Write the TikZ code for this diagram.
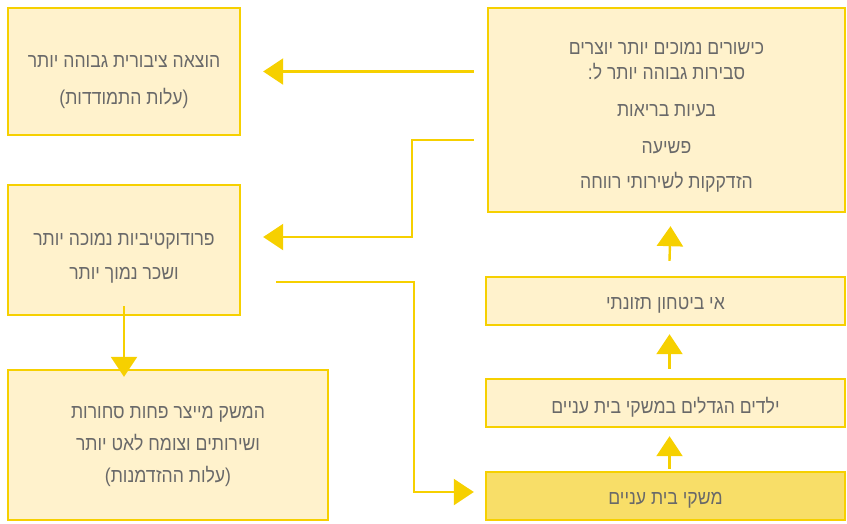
\documentclass[tikz,border=0pt]{standalone}
\usepackage{fontspec}
\usepackage{xcolor}
\usetikzlibrary{arrows.meta}
\TeXXeTstate=1
\newfontfamily\hebfont[Script=Hebrew, FakeStretch=0.88]{Liberation Sans}
\newcommand{\heb}[1]{\beginR #1\endR}
\definecolor{boxfill}{RGB}{255,242,204}
\definecolor{boxline}{RGB}{246,208,0}
\definecolor{darkfill}{RGB}{248,222,104}
\definecolor{textgray}{RGB}{105,105,105}

\begin{document}
\begin{tikzpicture}[x=1pt, y=-1pt,
    box/.style={draw=boxline, fill=boxfill, line width=2.4pt, rectangle, inner sep=0pt},
    txt/.style={align=center, text=textgray, inner sep=0pt, font=\hebfont\fontsize{20}{25}\selectfont},
    flow/.style={draw=boxline, line width=2.4pt, -{Triangle[width=26pt, length=20pt]}}]
    \useasboundingbox (0,0) rectangle (847,523);

    % Right column
    \node[box, minimum width=357pt, minimum height=204pt] (skills) at (666.5,110) {};
    \node[txt] (skillstext) at ([yshift=-7pt]skills.center)
      {\heb{כישורים נמוכים יותר יוצרים}\\ \heb{סבירות גבוהה יותר ל:}\\[12pt]
       \heb{בעיות בריאות}\\[12pt] \heb{פשיעה}\\[10pt] \heb{הזדקקות לשירותי רווחה}};
    \node[box, minimum width=359pt, minimum height=48pt] (food) at (665.5,301) {};
    \node[txt] (foodtext) at ([yshift=-4pt]food.center) {\heb{אי ביטחון תזונתי}};
    \node[box, minimum width=359pt, minimum height=48pt] (kids) at (665.5,403) {};
    \node[txt] (kidstext) at ([yshift=-4pt]kids.center) {\heb{ילדים הגדלים במשקי בית עניים}};
    \node[box, fill=darkfill, minimum width=359pt, minimum height=48pt] (poor) at (665.5,496) {};
    \node[txt] (poortext) at ([yshift=-4pt]poor.center) {\heb{משקי בית עניים}};

    % Left column
    \node[box, minimum width=232pt, minimum height=127pt] (spend) at (124,71.5) {};
    \node[txt] (spendtext) at ([yshift=-11pt]spend.center)
      {\heb{הוצאה ציבורית גבוהה יותר}\\[12pt] \heb{(עלות התמודדות)}};
    \node[box, minimum width=232pt, minimum height=130pt] (prod) at (124,250) {};
    \node[txt] (prodtext) at ([yshift=-8pt]prod.center)
      {\heb{פרודוקטיביות נמוכה יותר}\\[9pt] \heb{ושכר נמוך יותר}};
    \node[box, minimum width=320pt, minimum height=150pt] (econ) at (168,445) {};
    \node[txt] (econtext) at ([yshift=-1pt]econ.center)
      {\heb{המשק מייצר פחות סחורות}\\[7pt] \heb{ושירותים וצומח לאט יותר}\\[7pt] \heb{(עלות ההזדמנות)}};

    % Upward chain
    \draw[flow] ([shift={(4,-2)}]poor.north) -- ([shift={(4,8)}]kids.south);
    \draw[flow] ([shift={(4,-9)}]kids.north) -- ([shift={(4,8)}]food.south);
    \draw[flow] ([shift={(4,-15)}]food.north) -- ([shift={(4,13)}]skills.south);

    % From skills to the left column
    \draw[flow] ([xshift=-13pt]skills.west |- spend.east) -- ([xshift=22pt]spend.east);
    \draw[flow] ([shift={(-13,30)}]skills.west) -- ++(-62,0) |- ([shift={(22,-13)}]prod.east);

    % Feedback loop to poor households
    \draw[flow] ([shift={(35,32)}]prod.east) -- ++(138,0) |- ([shift={(-11,-4)}]poor.west);

    % Down to economy
    \draw[flow] ([yshift=10pt]prod.south) -- ([yshift=-8pt]econ.north -| prod.south);
\end{tikzpicture}
\end{document}
